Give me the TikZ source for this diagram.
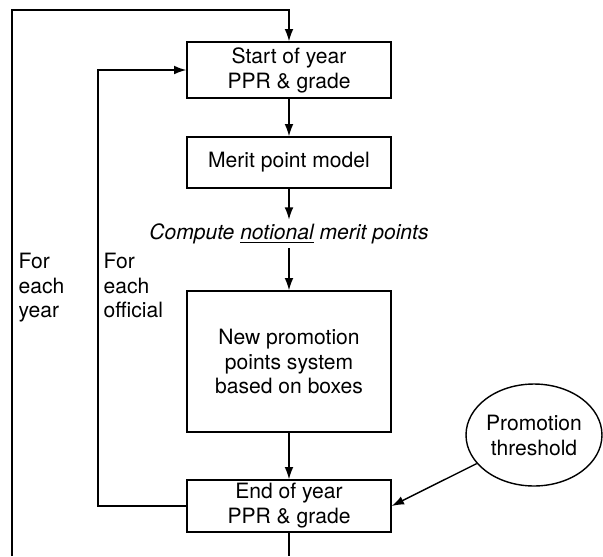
\documentclass[tikz,border=0pt]{standalone}
\usepackage{fontspec}
\setmainfont{TeX Gyre Heros}
\usepackage{tikz}
\usetikzlibrary{shapes.geometric,arrows.meta}

\tikzset{
	stagebox/.style={draw, thick, minimum width=4.08cm, align=center, inner sep=0pt},
	loopnote/.style={anchor=north west, align=left, inner sep=0pt},
	flow/.style={thick, -{Latex[length=7pt,width=5pt]}}
}

\begin{document}
\begin{tikzpicture}[x=0.02cm, y=-0.02cm, font=\fontsize{12}{14.2}\selectfont, thick]
				\useasboundingbox (0,0) rectangle (603,556);
				% boxes of the yearly run
				\node[stagebox, minimum height=1.12cm] (start) at (289,70) {Start of year\\PPR \& grade};
				\node[stagebox, minimum height=1.02cm] (merit) at (289,162.5) {Merit point model};
				\node[inner sep=2pt] (compute) at (289,234) {\textit{Compute \underline{notional} merit points}};
				\node[stagebox, minimum height=2.82cm] (newpts) at (289,361.5) {New promotion\\points system\\based on boxes};
				\node[stagebox, minimum height=1.04cm] (endyr) at (289,506) {End of year\\PPR \& grade};
				\node[draw, ellipse, minimum width=2.72cm, minimum height=2.04cm, inner sep=0pt, align=center] (thresh) at (534,435) {Promotion\\threshold};
				% loop labels
				\node[loopnote] (foryear) at (18,252) {For\\each\\year};
				\node[loopnote] (forofficial) at (103,252) {For\\each\\official};
				% loop corners
				\coordinate (outerbot) at (12,556);
				\coordinate (outertop) at (12,10);
				\coordinate (innerbot) at (98,506);
				\coordinate (endbot) at (289,556);
				% connectors
				\draw[flow] (start) -- (merit);
				\draw[flow] (merit) -- (compute);
				\draw[flow] (compute) -- (newpts);
				\draw[flow] (newpts) -- (endyr);
				\draw[flow] (thresh) -- (endyr.east);
				\draw (endyr) -- (endbot);
				\draw[flow] (endyr.west) -- (innerbot) |- (start.west);
				\draw[flow] (outerbot) -- (outertop) -| (start.north);
			\end{tikzpicture}
\end{document}
